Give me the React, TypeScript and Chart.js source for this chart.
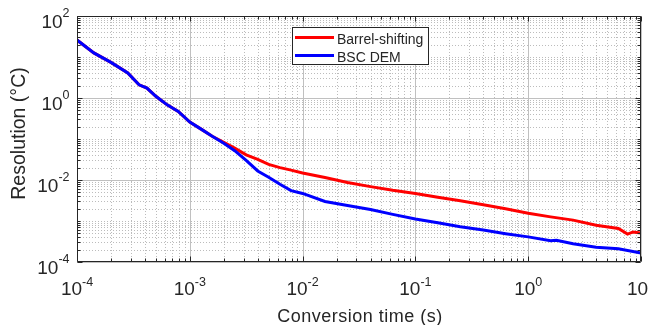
import React, { useEffect, useRef } from "react";
import { Chart, registerables } from "chart.js";

Chart.register(...registerables);

// ---- Data ----
const blueTime = [1e-4, 1.41e-4, 2.0e-4, 2.82e-4, 3.55e-4, 4.17e-4, 5.0e-4, 6.3e-4, 7.9e-4, 1e-3,
  1.26e-3, 1.58e-3, 2.0e-3, 2.5e-3, 3.16e-3, 4.0e-3, 5.0e-3, 6.3e-3, 7.9e-3, 1e-2,
  1.58e-2, 2.5e-2, 4e-2, 6.3e-2, 0.1, 0.158, 0.25, 0.4, 0.63, 1,
  1.58, 1.78, 2.5, 4, 6.3, 10];
const blueRes = [26, 12.6, 7.4, 4.1, 2.1, 1.74, 1.1, 0.68, 0.47, 0.26,
  0.174, 0.117, 0.079, 0.052, 0.030, 0.0166, 0.0117, 0.0079, 0.0055, 0.0047,
  0.0030, 0.0024, 0.0019, 0.00145, 0.00112, 0.00091, 0.00072, 0.0006, 0.00049, 0.00041,
  0.00033, 0.00034, 0.00028, 0.00023, 0.00021, 0.000166];

const redTime = [1e-4, 1.41e-4, 2.0e-4, 2.82e-4, 3.55e-4, 4.17e-4, 5.0e-4, 6.3e-4, 7.9e-4, 1e-3,
  1.26e-3, 1.58e-3, 2.0e-3, 2.5e-3, 3.16e-3, 4e-3, 5e-3, 6.3e-3, 7.9e-3, 1e-2,
  1.58e-2, 2.5e-2, 4e-2, 6.3e-2, 0.1, 0.158, 0.25, 0.4, 0.63, 1,
  1.58, 2.5, 4, 6.3, 7.6, 8.5, 10];
const redRes = [26, 12.6, 7.4, 4.1, 2.1, 1.74, 1.1, 0.68, 0.47, 0.26,
  0.174, 0.117, 0.083, 0.060, 0.041, 0.032, 0.024, 0.020, 0.0174, 0.0148,
  0.0115, 0.0087, 0.0069, 0.0056, 0.0047, 0.0038, 0.0031, 0.0025, 0.0020, 0.00155,
  0.00126, 0.00105, 0.00079, 0.00066, 0.00048, 0.00054, 0.00051];

const seriesNames = ["Barrel-shifting", "BSC DEM"];
const seriesColors = ["#ff0000", "#0000ff"];
const xTickExponents = [-4, -3, -2, -1, 0, 1];
const yTickExponents = [-4, -2, 0, 2];
const xTitle = "Conversion time (s)";
const yTitle = "Resolution (\u00B0C)";

const FONT = "'Liberation Sans', Arial, Helvetica, sans-serif";
const AXIS_COLOR = "#262626";
const MAJOR_GRID = "#c0c0c0";
const MINOR_GRID = "#bcbcbc";

function minorValues(minExp: number, maxExp: number, majors: number[]) {
  const out: number[] = [];
  for (let e = minExp; e < maxExp; e++) {
    for (let m = 1; m <= 9; m++) {
      if (m === 1 && majors.includes(e)) continue;
      out.push(m * Math.pow(10, e));
    }
  }
  return out;
}

const decorations = {
  id: "decorations",
  beforeDatasetsDraw(chart: any) {
    const { ctx, chartArea: a, scales } = chart;
    const xs = scales.x;
    const ys = scales.y;
    ctx.save();
    ctx.lineWidth = 1;
    // minor grid
    ctx.strokeStyle = MINOR_GRID;
    ctx.setLineDash([1, 2]);
    for (const v of minorValues(-4, 1, xTickExponents)) {
      const px = Math.round(xs.getPixelForValue(v)) + 0.5;
      ctx.beginPath();
      ctx.moveTo(px, a.top);
      ctx.lineTo(px, a.bottom);
      ctx.stroke();
    }
    for (const v of minorValues(-4, 2, yTickExponents)) {
      const py = Math.round(ys.getPixelForValue(v)) + 0.5;
      ctx.beginPath();
      ctx.moveTo(a.left, py);
      ctx.lineTo(a.right, py);
      ctx.stroke();
    }
    // major grid
    ctx.setLineDash([]);
    ctx.strokeStyle = MAJOR_GRID;
    for (const e of xTickExponents) {
      const px = Math.round(xs.getPixelForValue(Math.pow(10, e))) + 0.5;
      ctx.beginPath();
      ctx.moveTo(px, a.top);
      ctx.lineTo(px, a.bottom);
      ctx.stroke();
    }
    for (const e of yTickExponents) {
      const py = Math.round(ys.getPixelForValue(Math.pow(10, e))) + 0.5;
      ctx.beginPath();
      ctx.moveTo(a.left, py);
      ctx.lineTo(a.right, py);
      ctx.stroke();
    }
    ctx.restore();
  },
  afterDraw(chart: any) {
    const { ctx, chartArea: a, scales } = chart;
    const xs = scales.x;
    const ys = scales.y;
    ctx.save();
    const L = Math.round(a.left) + 0.5;
    const R = Math.round(a.right) - 0.5;
    const T = Math.round(a.top) + 0.5;
    const B = Math.round(a.bottom) - 0.5;
    // ticks
    ctx.strokeStyle = AXIS_COLOR;
    ctx.lineWidth = 1;
    const majorLen = 5;
    const minorLen = 3;
    const xt = (v: number, len: number) => {
      const px = Math.round(xs.getPixelForValue(v)) + 0.5;
      ctx.beginPath();
      ctx.moveTo(px, B);
      ctx.lineTo(px, B - len);
      ctx.moveTo(px, T);
      ctx.lineTo(px, T + len);
      ctx.stroke();
    };
    const yt = (v: number, len: number) => {
      const py = Math.round(ys.getPixelForValue(v)) + 0.5;
      ctx.beginPath();
      ctx.moveTo(L, py);
      ctx.lineTo(L + len, py);
      ctx.moveTo(R, py);
      ctx.lineTo(R - len, py);
      ctx.stroke();
    };
    minorValues(-4, 1, xTickExponents).forEach((v) => xt(v, minorLen));
    minorValues(-4, 2, yTickExponents).forEach((v) => yt(v, minorLen));
    xTickExponents.forEach((e) => xt(Math.pow(10, e), majorLen));
    yTickExponents.forEach((e) => yt(Math.pow(10, e), majorLen));
    // frame
    ctx.beginPath();
    ctx.rect(L, T, R - L, B - T);
    ctx.stroke();

    // tick labels
    ctx.fillStyle = AXIS_COLOR;
    ctx.textBaseline = "alphabetic";
    ctx.textAlign = "left";
    const baseFont = `19px ${FONT}`;
    const expFont = `12.5px ${FONT}`;
    const measure = (e: number) => {
      ctx.font = baseFont;
      const wb = ctx.measureText("10").width;
      ctx.font = expFont;
      const we = ctx.measureText(String(e)).width;
      return { wb, we };
    };
    for (const e of xTickExponents) {
      const px = xs.getPixelForValue(Math.pow(10, e));
      const { wb, we } = measure(e);
      const sx = px - (wb + we) / 2;
      ctx.font = baseFont;
      ctx.fillText("10", sx, a.bottom + 33);
      ctx.font = expFont;
      ctx.fillText(String(e), sx + wb, a.bottom + 24);
    }
    for (const e of yTickExponents) {
      const py = ys.getPixelForValue(Math.pow(10, e));
      const { wb, we } = measure(e);
      const right = a.left - 7.5;
      const sx = right - (wb + we);
      ctx.font = baseFont;
      ctx.fillText("10", sx, py + 11.5);
      ctx.font = expFont;
      ctx.fillText(String(e), sx + wb, py + 1);
    }

    // axis titles
    ctx.textAlign = "center";
    ctx.font = `18px ${FONT}`;
    try { (ctx as any).letterSpacing = "0.5px"; } catch (err) {}
    ctx.fillText(xTitle, (a.left + a.right) / 2 + 1, a.bottom + 60);
    try { (ctx as any).letterSpacing = "0px"; } catch (err) {}
    ctx.save();
    ctx.translate(17, (a.top + a.bottom) / 2 - 5.5);
    ctx.rotate(-Math.PI / 2);
    ctx.font = `19.5px ${FONT}`;
    ctx.fillText(yTitle, 0, 0);
    ctx.restore();

    // legend
    const lx = 284.5, ly = 19.5, lw = 136, lh = 37;
    ctx.fillStyle = "#ffffff";
    ctx.fillRect(lx, ly, lw, lh);
    ctx.strokeStyle = AXIS_COLOR;
    ctx.lineWidth = 1;
    ctx.strokeRect(lx, ly, lw, lh);
    const rows = [29.5, 47.5];
    const baselines = [35.5, 53.8];
    ctx.font = `14px ${FONT}`;
    ctx.textAlign = "left";
    seriesNames.forEach((name, i) => {
      ctx.strokeStyle = seriesColors[i];
      ctx.lineWidth = 3;
      ctx.beginPath();
      ctx.moveTo(287, rows[i]);
      ctx.lineTo(326, rows[i]);
      ctx.stroke();
      ctx.fillStyle = AXIS_COLOR;
      ctx.fillText(name, 329, baselines[i]);
    });
    ctx.restore();
  },
};

export default function App() {
  const canvasRef = useRef<HTMLCanvasElement | null>(null);

  useEffect(() => {
    if (!canvasRef.current) return;
    const toPoints = (xs: number[], ys: number[]) => xs.map((x, i) => ({ x, y: ys[i] }));
    const chart = new Chart(canvasRef.current, {
      type: "line",
      data: {
        datasets: [
          {
            label: seriesNames[1],
            data: toPoints(blueTime, blueRes),
            borderColor: seriesColors[1],
            backgroundColor: seriesColors[1],
            borderWidth: 3,
            pointRadius: 0,
            tension: 0,
            fill: false,
          },
          {
            label: seriesNames[0],
            data: toPoints(redTime, redRes),
            borderColor: seriesColors[0],
            backgroundColor: seriesColors[0],
            borderWidth: 3,
            pointRadius: 0,
            tension: 0,
            fill: false,
          },
        ],
      },
      options: {
        responsive: false,
        animation: false,
        devicePixelRatio: 1,
        layout: { padding: { left: 69, right: 7, top: 8, bottom: 63 } },
        plugins: { legend: { display: false }, tooltip: { enabled: false } },
        scales: {
          x: { type: "logarithmic", min: 1e-4, max: 10, display: false },
          y: { type: "logarithmic", min: 1e-4, max: 100, display: false },
        },
      },
      plugins: [decorations],
    });
    return () => chart.destroy();
  }, []);

  return (
    <div style={{ width: 640, height: 317 }}>
      <canvas ref={canvasRef} width={640} height={317} style={{ display: "block" }} />
    </div>
  );
}
